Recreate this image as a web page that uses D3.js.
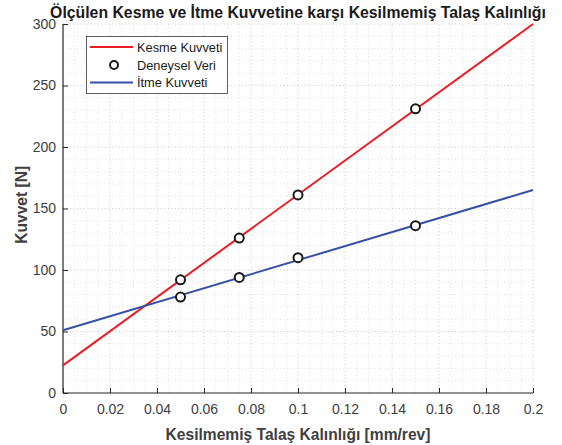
<!DOCTYPE html>
<html>
<head>
<meta charset="utf-8">
<script src="https://cdn.jsdelivr.net/npm/d3@7"></script>
<style>
  html, body { margin: 0; padding: 0; background: #fff; }
  svg { display: block; font-family: "Liberation Sans", Arial, Helvetica, sans-serif; }
</style>
</head>
<body>
<svg id="chart" width="562" height="445"></svg>
<script>
// Measured chip thickness (mm/rev) and forces (N)
const thickness = [0.05, 0.075, 0.1, 0.15];
const cuttingForce = [92, 126, 161, 231];
const thrustForce = [78, 94, 110, 136];

// Linear fit lines, evaluated at the axis ends
const fitX = [0, 0.2];
const cuttingFit = [22.5, 300];
const thrustFit = [51, 165];

const xTicks = [0, 0.02, 0.04, 0.06, 0.08, 0.1, 0.12, 0.14, 0.16, 0.18, 0.2];
const yTicks = [0, 50, 100, 150, 200, 250, 300];

const titleText = "Ölçülen Kesme ve İtme Kuvvetine karşı Kesilmemiş Talaş Kalınlığı";
const xLabel = "Kesilmemiş Talaş Kalınlığı [mm/rev]";
const yLabel = "Kuvvet [N]";
const legendItems = ["Kesme Kuvveti", "Deneysel Veri", "İtme Kuvveti"];

const RED = "#ec1c24";
const BLUE = "#3651a4";
const AXIS = "#262626";
const TICKTXT = "#404040";

const margin = { left: 63, right: 29, top: 24, bottom: 52 };
const W = 562, H = 445;
const svg = d3.select("#chart");

const x = d3.scaleLinear().domain([0, 0.2]).range([margin.left, W - margin.right]);
const y = d3.scaleLinear().domain([0, 300]).range([H - margin.bottom, margin.top]);

const g = svg.append("g");

// Minor grid
const xMinor = d3.range(0, 0.2 + 1e-9, 0.005).filter((v, i) => i % 4 !== 0);
const yMinor = d3.range(0, 300 + 1e-9, 10).filter((v, i) => i % 5 !== 0);
g.append("g").selectAll("line").data(xMinor).join("line")
  .attr("x1", d => x(d)).attr("x2", d => x(d))
  .attr("y1", y(0)).attr("y2", y(300))
  .attr("stroke", "#d9d9d9").attr("stroke-width", 0.8).attr("stroke-dasharray", "1,2.5");
g.append("g").selectAll("line").data(yMinor).join("line")
  .attr("y1", d => y(d)).attr("y2", d => y(d))
  .attr("x1", x(0)).attr("x2", x(0.2))
  .attr("stroke", "#d9d9d9").attr("stroke-width", 0.8).attr("stroke-dasharray", "1,2.5");

// Major grid
g.append("g").selectAll("line").data(xTicks.slice(1)).join("line")
  .attr("x1", d => x(d)).attr("x2", d => x(d))
  .attr("y1", y(0)).attr("y2", y(300))
  .attr("stroke", "#bdbdbd").attr("stroke-width", 0.8).attr("stroke-dasharray", "1,2.5");
g.append("g").selectAll("line").data(yTicks.slice(1)).join("line")
  .attr("y1", d => y(d)).attr("y2", d => y(d))
  .attr("x1", x(0)).attr("x2", x(0.2))
  .attr("stroke", "#bdbdbd").attr("stroke-width", 0.8).attr("stroke-dasharray", "1,2.5");

// Axes
const xAxis = d3.axisBottom(x).tickValues(xTicks).tickSize(-5).tickPadding(11)
  .tickFormat(d => d === 0 ? "0" : d3.format("~g")(d));
const yAxis = d3.axisLeft(y).tickValues(yTicks).tickSize(-5).tickPadding(7);

const gx = svg.append("g").attr("transform", `translate(0,${y(0)})`).call(xAxis);
const gy = svg.append("g").attr("transform", `translate(${x(0)},0)`).call(yAxis);
[gx, gy].forEach(a => {
  a.select(".domain").attr("stroke", AXIS).attr("stroke-width", 1.2);
  a.selectAll(".tick line").attr("stroke", AXIS).attr("stroke-width", 1);
  a.selectAll(".tick text").attr("fill", TICKTXT).style("font-size", "14px")
    .style("font-family", "'Liberation Sans', Arial, sans-serif");
});
gx.select(".domain").attr("d", `M${x(0)},0H${x(0.2)}`);
gy.select(".domain").attr("d", `M0,${y(300)}V${y(0)}`);

// Fit lines
const line = d3.line().x(d => x(d[0])).y(d => y(d[1]));
svg.append("path").datum(fitX.map((v, i) => [v, cuttingFit[i]]))
  .attr("d", line).attr("fill", "none").attr("stroke", RED).attr("stroke-width", 2);
svg.append("path").datum(fitX.map((v, i) => [v, thrustFit[i]]))
  .attr("d", line).attr("fill", "none").attr("stroke", BLUE).attr("stroke-width", 2);

// Experimental points
const pts = thickness.map((t, i) => [t, cuttingForce[i]])
  .concat(thickness.map((t, i) => [t, thrustForce[i]]));
svg.append("g").selectAll("circle").data(pts).join("circle")
  .attr("cx", d => x(d[0])).attr("cy", d => y(d[1])).attr("r", 4.5)
  .attr("fill", "#fff").attr("stroke", "#1a1a1a").attr("stroke-width", 2);

// Title and axis labels
svg.append("text").attr("x", 298).attr("y", 18).attr("text-anchor", "middle")
  .attr("fill", "#1a1a1a").style("font-weight", "bold").style("font-size", "15.8px")
  .text(titleText);
svg.append("text").attr("x", x(0.1)).attr("y", 440).attr("text-anchor", "middle")
  .attr("fill", "#404040").style("font-weight", "bold").style("font-size", "15.6px")
  .text(xLabel);
svg.append("text").attr("transform", `translate(27,${y(153)}) rotate(-90)`)
  .attr("text-anchor", "middle")
  .attr("fill", "#404040").style("font-weight", "bold").style("font-size", "15.6px")
  .text(yLabel);

// Legend
const lg = svg.append("g").attr("transform", "translate(86,36)");
lg.append("rect").attr("x", 0.5).attr("y", 0.5).attr("width", 141).attr("height", 57)
  .attr("fill", "#fff").attr("stroke", "#3a3a3a").attr("stroke-width", 0.8);
const rowY = [11, 29, 46.5];
lg.append("line").attr("x1", 4).attr("x2", 47).attr("y1", rowY[0]).attr("y2", rowY[0])
  .attr("stroke", RED).attr("stroke-width", 2);
lg.append("circle").attr("cx", 28).attr("cy", rowY[1]).attr("r", 4)
  .attr("fill", "#fff").attr("stroke", "#1a1a1a").attr("stroke-width", 2);
lg.append("line").attr("x1", 4).attr("x2", 47).attr("y1", rowY[2]).attr("y2", rowY[2])
  .attr("stroke", BLUE).attr("stroke-width", 2);
lg.selectAll("text.item").data(legendItems).join("text").attr("class", "item")
  .attr("x", 51).attr("y", (d, i) => rowY[i] + 4.5)
  .attr("fill", "#1a1a1a").style("font-size", "12.8px").text(d => d);
</script>
</body>
</html>
